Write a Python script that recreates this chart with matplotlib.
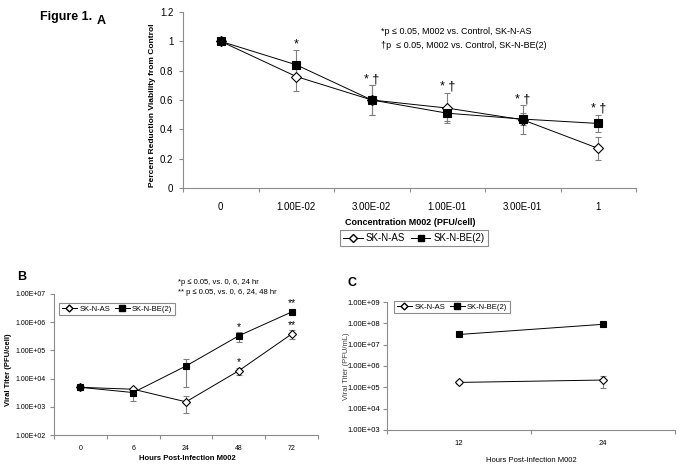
import numpy as np
import matplotlib.pyplot as plt
from matplotlib.lines import Line2D
from matplotlib.ticker import NullLocator, FixedLocator

plt.rcParams['font.family'] = ['Liberation Sans', 'DejaVu Sans']

# Panel A: viability vs concentration
conc_labels = ["0", "1.00E-02", "3.00E-02", "1.00E-01", "3.00E-01", "1"]
as_viab = [1.0, 0.76, 0.60, 0.545, 0.465, 0.27]
as_viab_err = [0.0, 0.10, 0.10, 0.105, 0.10, 0.08]
be_viab = [1.0, 0.84, 0.60, 0.51, 0.47, 0.44]
be_viab_err = [0.0, 0.10, 0.10, 0.05, 0.04, 0.06]
a_marks = ["", "*", "* †", "* †", "* †", "* †"]

# Panel B: viral titer per cell
hours_b = ["0", "6", "24", "48", "72"]
as_titer_b = [4.9e3, 4.2e3, 1.5e3, 1.9e4, 3.8e5]
as_titer_b_err = [1.0e3, 5.0e2, 9.0e2, 5.5e3, 1.35e5]
be_titer_b = [4.9e3, 3.2e3, 2.8e4, 3.3e5, 2.3e6]
be_titer_b_err = [5.0e2, 1.6e3, 2.3e4, 1.3e5, 3.0e5]
as_marks_b = ["", "", "", "*", "**"]
be_marks_b = ["", "", "", "*", "**"]

# Panel C: viral titer per mL
hours_c = ["12", "24"]
as_titer_c = [1.7e5, 2.2e5]
as_titer_c_err = [2.0e4, 1.3e5]
be_titer_c = [3.0e7, 9.0e7]
be_titer_c_err = [4.0e6, 1.0e7]

W, H = 683, 474
AX_COL = "#8c8c8c"
ERR_COL = "#808080"


def px(x, y):
    return x / W, 1 - y / H


def excel_axes(ax, labels, fs, xpad, ypad):
    n = len(labels)
    ax.set_xlim(-0.5, n - 0.5)
    ax.xaxis.set_major_locator(FixedLocator(np.arange(n + 1) - 0.5))
    ax.set_xticklabels([""] * (n + 1))
    ax.xaxis.set_minor_locator(FixedLocator(np.arange(n)))
    ax.set_xticklabels(labels, minor=True)
    ax.tick_params(axis='x', which='major', length=3, width=0.8, color=AX_COL)
    ax.tick_params(axis='x', which='minor', length=0, pad=xpad, labelsize=fs)
    ax.tick_params(axis='y', which='major', length=3, width=0.8, color=AX_COL,
                   labelsize=fs, pad=ypad)
    ax.yaxis.set_minor_locator(NullLocator())
    for s in ['top', 'right']:
        ax.spines[s].set_visible(False)
    for s in ['left', 'bottom']:
        ax.spines[s].set_color(AX_COL)
        ax.spines[s].set_linewidth(0.8)


def draw_series(ax, vals, errs, marker, mfc, ms, cap):
    x = np.arange(len(vals))
    ax.errorbar(x, vals, yerr=errs, fmt='none', ecolor=ERR_COL, elinewidth=0.8,
                capsize=cap, capthick=0.8, zorder=2)
    ax.plot(x, vals, '-', color='black', lw=0.7, marker=marker, mfc=mfc,
            mec='black', mew=0.8, ms=ms, zorder=3)


def legend(fig, center, fs, ms_d, ms_s):
    handles = [
        Line2D([], [], color='black', lw=0.7, marker='D', mfc='white', mec='black', ms=ms_d),
        Line2D([], [], color='black', lw=0.7, marker='s', mfc='black', mec='black', ms=ms_s),
    ]
    leg = fig.legend(handles, ["SK-N-AS", "SK-N-BE(2)"], loc='center',
                     bbox_to_anchor=px(*center), ncol=2, fontsize=fs,
                     frameon=True, fancybox=False, framealpha=1,
                     edgecolor=AX_COL, handlelength=2.0, handletextpad=0.3,
                     columnspacing=0.6, borderpad=0.35)
    leg.get_frame().set_linewidth(0.8)


fig = plt.figure(figsize=(W / 100, H / 100), dpi=100)

# ---- Panel A ----
axA = fig.add_axes([183 / W, 1 - 188 / H, 453 / W, 176 / H])
draw_series(axA, as_viab, as_viab_err, 'D', 'white', 5.5, 2.5)
draw_series(axA, be_viab, be_viab_err, 's', 'black', 6, 2.5)
excel_axes(axA, conc_labels, 7, 10, 4)
axA.set_ylim(0, 1.2)
axA.set_yticks(np.arange(0, 1.21, 0.2))
axA.set_yticklabels(["0", "0.2", "0.4", "0.6", "0.8", "1", "1.2"])
for i, m in enumerate(a_marks):
    if m:
        top = max(as_viab[i] + as_viab_err[i], be_viab[i] + be_viab_err[i])
        axA.annotate(m, (i, top), xytext=(0, 0), textcoords='offset points',
                     ha='center', va='bottom', fontsize=9)
legend(fig, (414, 238), 7, 4, 4.5)

fig.text(*px(40, 17), "Figure 1.", fontsize=9, fontweight='bold', va='center')
fig.text(*px(97, 21), "A", fontsize=9, fontweight='bold', va='center')
fig.text(*px(152, 105), "Percent Reduction Viability from Control", rotation=90,
         fontsize=6, fontweight='bold', ha='center', va='center')
fig.text(*px(410, 222), "Concentration M002 (PFU/cell)", fontsize=6.5,
         fontweight='bold', ha='center', va='center')
fig.text(*px(381, 32), "*p ≤ 0.05, M002 vs. Control, SK-N-AS", fontsize=6.5, va='center')
fig.text(*px(381, 45), "†p  ≤ 0.05, M002 vs. Control, SK-N-BE(2)", fontsize=6.5, va='center')

# ---- Panel B ----
axB = fig.add_axes([54 / W, 1 - 435 / H, 264 / W, 141 / H])
axB.set_yscale('log')
draw_series(axB, as_titer_b, as_titer_b_err, 'D', 'white', 4.5, 2)
draw_series(axB, be_titer_b, be_titer_b_err, 's', 'black', 5, 2)
excel_axes(axB, hours_b, 5, 7, 3)
axB.set_ylim(1e2, 1e7)
yt = [1e2, 1e3, 1e4, 1e5, 1e6, 1e7]
axB.yaxis.set_major_locator(FixedLocator(yt))
axB.set_yticklabels(["1.00E+02", "1.00E+03", "1.00E+04", "1.00E+05", "1.00E+06", "1.00E+07"])
for marks, vals in [(as_marks_b, as_titer_b), (be_marks_b, be_titer_b)]:
    for i, m in enumerate(marks):
        if m:
            axB.annotate(m, (i, vals[i]), xytext=(0, 2.5), textcoords='offset points',
                         ha='center', va='bottom', fontsize=7.5)
legend(fig, (117, 309), 5.5, 3.5, 4)

fig.text(*px(17, 277), "B", fontsize=9, fontweight='bold', va='center')
fig.text(*px(9, 370), "Viral Titer (PFU/cell)", rotation=90, fontsize=5.5,
         fontweight='bold', ha='center', va='center')
fig.text(*px(187, 458), "Hours Post-Infection M002", fontsize=5.5,
         fontweight='bold', ha='center', va='center')
fig.text(*px(178, 283), "*p ≤ 0.05, vs. 0, 6, 24 hr", fontsize=5.5, va='center')
fig.text(*px(178, 293), "** p ≤ 0.05, vs. 0, 6, 24, 48 hr", fontsize=5.5, va='center')

# ---- Panel C ----
axC = fig.add_axes([387 / W, 1 - 430 / H, 288 / W, 128 / H])
axC.set_yscale('log')
draw_series(axC, as_titer_c, as_titer_c_err, 'D', 'white', 4.5, 2)
draw_series(axC, be_titer_c, be_titer_c_err, 's', 'black', 5, 2)
excel_axes(axC, hours_c, 5.5, 7, 2)
axC.set_ylim(1e3, 1e9)
ytc = [1e3, 1e4, 1e5, 1e6, 1e7, 1e8, 1e9]
axC.yaxis.set_major_locator(FixedLocator(ytc))
axC.set_yticklabels(["1.00E+03", "1.00E+04", "1.00E+05", "1.00E+06",
                     "1.00E+07", "1.00E+08", "1.00E+09"])
legend(fig, (452, 307), 5.5, 3.5, 4)

fig.text(*px(347, 283), "C", fontsize=9, fontweight='bold', va='center')
fig.text(*px(347, 366), "Viral Titer (PFU/mL)", rotation=90, fontsize=5.5,
         color='#404040', ha='center', va='center')
fig.text(*px(531, 460), "Hours Post-Infection M002", fontsize=5.5,
         ha='center', va='center')

fig.savefig("out.png", dpi=100)
